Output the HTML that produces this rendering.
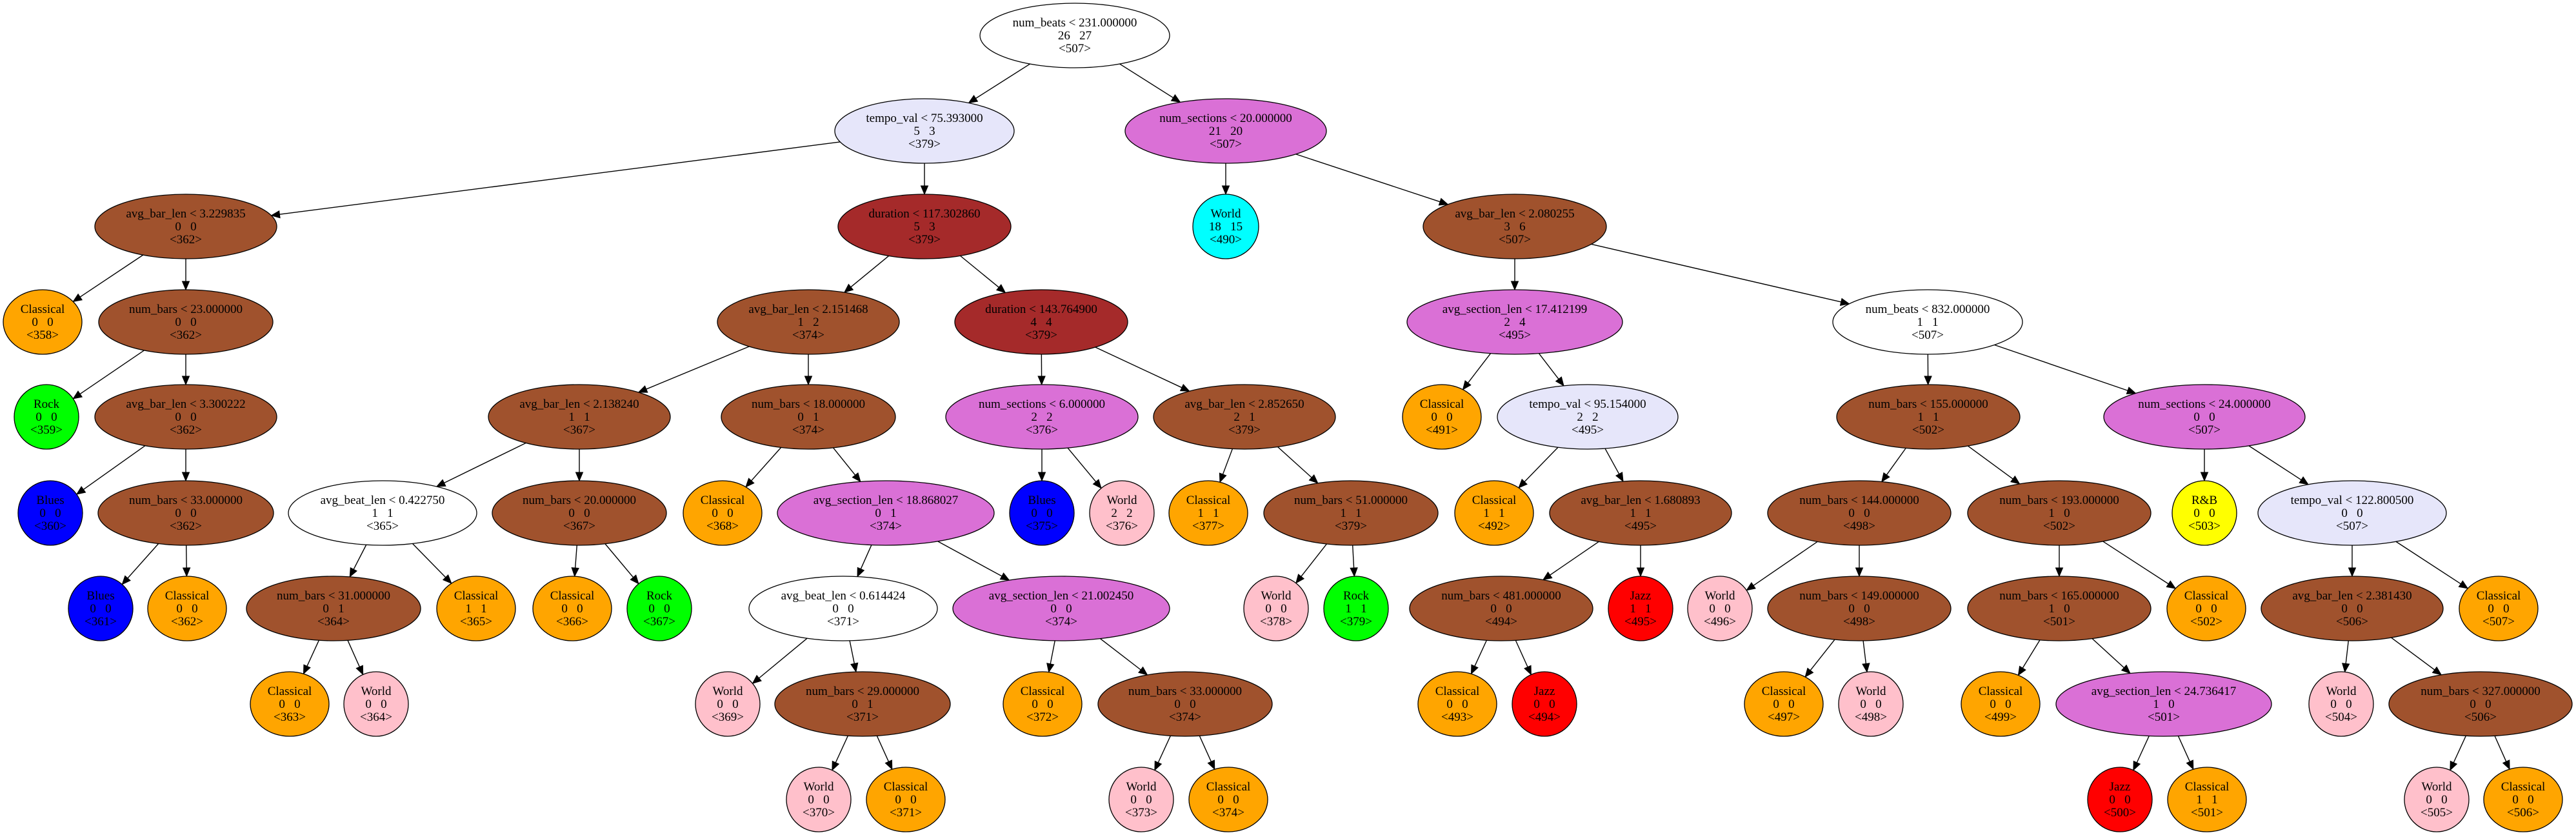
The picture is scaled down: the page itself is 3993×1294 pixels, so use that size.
<!DOCTYPE html>
<html><head><meta charset="utf-8"><style>
html,body{margin:0;padding:0;background:#fff;}
svg{display:block;}
text{font-family:"Liberation Serif",serif;font-size:19px;text-anchor:middle;fill:#000;}
ellipse{stroke:#000;stroke-width:1.3;}
</style></head><body>
<svg id="s" width="3993" height="1294" viewBox="0 0 3993 1294" xmlns="http://www.w3.org/2000/svg">
<g id="edges"></g>
<g id="nodes">
<ellipse id="n0" cx="1666" cy="55" rx="147" ry="50" fill="#ffffff"/><text x="1666" y="41">num_beats &lt; 231.000000</text><text x="1666" y="61">26&#160;&#160;&#160;27</text><text x="1666" y="81">&lt;507&gt;</text>
<ellipse id="n1" cx="1433" cy="203" rx="139" ry="50" fill="#e6e6fa"/><text x="1433" y="189">tempo_val &lt; 75.393000</text><text x="1433" y="209">5&#160;&#160;&#160;3</text><text x="1433" y="229">&lt;379&gt;</text>
<ellipse id="n2" cx="1900" cy="203" rx="156" ry="50" fill="#da70d6"/><text x="1900" y="189">num_sections &lt; 20.000000</text><text x="1900" y="209">21&#160;&#160;&#160;20</text><text x="1900" y="229">&lt;507&gt;</text>
<ellipse id="n3" cx="288" cy="351" rx="141" ry="50" fill="#a0522d"/><text x="288" y="337">avg_bar_len &lt; 3.229835</text><text x="288" y="357">0&#160;&#160;&#160;0</text><text x="288" y="377">&lt;362&gt;</text>
<ellipse id="n4" cx="1433" cy="351" rx="134" ry="50" fill="#a52a2a"/><text x="1433" y="337">duration &lt; 117.302860</text><text x="1433" y="357">5&#160;&#160;&#160;3</text><text x="1433" y="377">&lt;379&gt;</text>
<ellipse id="n5" cx="1900" cy="351" rx="51" ry="50" fill="#00ffff"/><text x="1900" y="337">World</text><text x="1900" y="357">18&#160;&#160;&#160;15</text><text x="1900" y="377">&lt;490&gt;</text>
<ellipse id="n6" cx="2348" cy="351" rx="142" ry="50" fill="#a0522d"/><text x="2348" y="337">avg_bar_len &lt; 2.080255</text><text x="2348" y="357">3&#160;&#160;&#160;6</text><text x="2348" y="377">&lt;507&gt;</text>
<ellipse id="n7" cx="66" cy="499" rx="61" ry="50" fill="#ffa500"/><text x="66" y="485">Classical</text><text x="66" y="505">0&#160;&#160;&#160;0</text><text x="66" y="525">&lt;358&gt;</text>
<ellipse id="n8" cx="288" cy="499" rx="135" ry="50" fill="#a0522d"/><text x="288" y="485">num_bars &lt; 23.000000</text><text x="288" y="505">0&#160;&#160;&#160;0</text><text x="288" y="525">&lt;362&gt;</text>
<ellipse id="n9" cx="1253" cy="499" rx="141" ry="50" fill="#a0522d"/><text x="1253" y="485">avg_bar_len &lt; 2.151468</text><text x="1253" y="505">1&#160;&#160;&#160;2</text><text x="1253" y="525">&lt;374&gt;</text>
<ellipse id="n10" cx="1614" cy="499" rx="134" ry="50" fill="#a52a2a"/><text x="1614" y="485">duration &lt; 143.764900</text><text x="1614" y="505">4&#160;&#160;&#160;4</text><text x="1614" y="525">&lt;379&gt;</text>
<ellipse id="n11" cx="2348" cy="499" rx="167" ry="50" fill="#da70d6"/><text x="2348" y="485">avg_section_len &lt; 17.412199</text><text x="2348" y="505">2&#160;&#160;&#160;4</text><text x="2348" y="525">&lt;495&gt;</text>
<ellipse id="n12" cx="2988" cy="499" rx="147" ry="50" fill="#ffffff"/><text x="2988" y="485">num_beats &lt; 832.000000</text><text x="2988" y="505">1&#160;&#160;&#160;1</text><text x="2988" y="525">&lt;507&gt;</text>
<ellipse id="n13" cx="72" cy="646" rx="50" ry="50" fill="#00ff00"/><text x="72" y="632">Rock</text><text x="72" y="652">0&#160;&#160;&#160;0</text><text x="72" y="672">&lt;359&gt;</text>
<ellipse id="n14" cx="288" cy="646" rx="141" ry="50" fill="#a0522d"/><text x="288" y="632">avg_bar_len &lt; 3.300222</text><text x="288" y="652">0&#160;&#160;&#160;0</text><text x="288" y="672">&lt;362&gt;</text>
<ellipse id="n15" cx="898" cy="646" rx="141" ry="50" fill="#a0522d"/><text x="898" y="632">avg_bar_len &lt; 2.138240</text><text x="898" y="652">1&#160;&#160;&#160;1</text><text x="898" y="672">&lt;367&gt;</text>
<ellipse id="n16" cx="1253" cy="646" rx="135" ry="50" fill="#a0522d"/><text x="1253" y="632">num_bars &lt; 18.000000</text><text x="1253" y="652">0&#160;&#160;&#160;1</text><text x="1253" y="672">&lt;374&gt;</text>
<ellipse id="n17" cx="1615" cy="646" rx="149" ry="50" fill="#da70d6"/><text x="1615" y="632">num_sections &lt; 6.000000</text><text x="1615" y="652">2&#160;&#160;&#160;2</text><text x="1615" y="672">&lt;376&gt;</text>
<ellipse id="n18" cx="1929" cy="646" rx="141" ry="50" fill="#a0522d"/><text x="1929" y="632">avg_bar_len &lt; 2.852650</text><text x="1929" y="652">2&#160;&#160;&#160;1</text><text x="1929" y="672">&lt;379&gt;</text>
<ellipse id="n19" cx="2235" cy="646" rx="61" ry="50" fill="#ffa500"/><text x="2235" y="632">Classical</text><text x="2235" y="652">0&#160;&#160;&#160;0</text><text x="2235" y="672">&lt;491&gt;</text>
<ellipse id="n20" cx="2461" cy="646" rx="140" ry="50" fill="#e6e6fa"/><text x="2461" y="632">tempo_val &lt; 95.154000</text><text x="2461" y="652">2&#160;&#160;&#160;2</text><text x="2461" y="672">&lt;495&gt;</text>
<ellipse id="n21" cx="2989" cy="646" rx="142" ry="50" fill="#a0522d"/><text x="2989" y="632">num_bars &lt; 155.000000</text><text x="2989" y="652">1&#160;&#160;&#160;1</text><text x="2989" y="672">&lt;502&gt;</text>
<ellipse id="n22" cx="3417" cy="646" rx="156" ry="50" fill="#da70d6"/><text x="3417" y="632">num_sections &lt; 24.000000</text><text x="3417" y="652">0&#160;&#160;&#160;0</text><text x="3417" y="672">&lt;507&gt;</text>
<ellipse id="n23" cx="78" cy="795" rx="50" ry="50" fill="#0000ff"/><text x="78" y="781">Blues</text><text x="78" y="801">0&#160;&#160;&#160;0</text><text x="78" y="821">&lt;360&gt;</text>
<ellipse id="n24" cx="288" cy="795" rx="136" ry="50" fill="#a0522d"/><text x="288" y="781">num_bars &lt; 33.000000</text><text x="288" y="801">0&#160;&#160;&#160;0</text><text x="288" y="821">&lt;362&gt;</text>
<ellipse id="n25" cx="593" cy="795" rx="146" ry="50" fill="#ffffff"/><text x="593" y="781">avg_beat_len &lt; 0.422750</text><text x="593" y="801">1&#160;&#160;&#160;1</text><text x="593" y="821">&lt;365&gt;</text>
<ellipse id="n26" cx="898" cy="795" rx="135" ry="50" fill="#a0522d"/><text x="898" y="781">num_bars &lt; 20.000000</text><text x="898" y="801">0&#160;&#160;&#160;0</text><text x="898" y="821">&lt;367&gt;</text>
<ellipse id="n27" cx="1120" cy="795" rx="61" ry="50" fill="#ffa500"/><text x="1120" y="781">Classical</text><text x="1120" y="801">0&#160;&#160;&#160;0</text><text x="1120" y="821">&lt;368&gt;</text>
<ellipse id="n28" cx="1373" cy="795" rx="168" ry="50" fill="#da70d6"/><text x="1373" y="781">avg_section_len &lt; 18.868027</text><text x="1373" y="801">0&#160;&#160;&#160;1</text><text x="1373" y="821">&lt;374&gt;</text>
<ellipse id="n29" cx="1615" cy="795" rx="50" ry="50" fill="#0000ff"/><text x="1615" y="781">Blues</text><text x="1615" y="801">0&#160;&#160;&#160;0</text><text x="1615" y="821">&lt;375&gt;</text>
<ellipse id="n30" cx="1739" cy="795" rx="50" ry="50" fill="#ffc0cb"/><text x="1739" y="781">World</text><text x="1739" y="801">2&#160;&#160;&#160;2</text><text x="1739" y="821">&lt;376&gt;</text>
<ellipse id="n31" cx="1873" cy="795" rx="61" ry="50" fill="#ffa500"/><text x="1873" y="781">Classical</text><text x="1873" y="801">1&#160;&#160;&#160;1</text><text x="1873" y="821">&lt;377&gt;</text>
<ellipse id="n32" cx="2094" cy="795" rx="135" ry="50" fill="#a0522d"/><text x="2094" y="781">num_bars &lt; 51.000000</text><text x="2094" y="801">1&#160;&#160;&#160;1</text><text x="2094" y="821">&lt;379&gt;</text>
<ellipse id="n33" cx="2316" cy="795" rx="61" ry="50" fill="#ffa500"/><text x="2316" y="781">Classical</text><text x="2316" y="801">1&#160;&#160;&#160;1</text><text x="2316" y="821">&lt;492&gt;</text>
<ellipse id="n34" cx="2543" cy="795" rx="141" ry="50" fill="#a0522d"/><text x="2543" y="781">avg_bar_len &lt; 1.680893</text><text x="2543" y="801">1&#160;&#160;&#160;1</text><text x="2543" y="821">&lt;495&gt;</text>
<ellipse id="n35" cx="2882" cy="795" rx="142" ry="50" fill="#a0522d"/><text x="2882" y="781">num_bars &lt; 144.000000</text><text x="2882" y="801">0&#160;&#160;&#160;0</text><text x="2882" y="821">&lt;498&gt;</text>
<ellipse id="n36" cx="3192" cy="795" rx="142" ry="50" fill="#a0522d"/><text x="3192" y="781">num_bars &lt; 193.000000</text><text x="3192" y="801">1&#160;&#160;&#160;0</text><text x="3192" y="821">&lt;502&gt;</text>
<ellipse id="n37" cx="3417" cy="795" rx="50" ry="50" fill="#ffff00"/><text x="3417" y="781">R&amp;B</text><text x="3417" y="801">0&#160;&#160;&#160;0</text><text x="3417" y="821">&lt;503&gt;</text>
<ellipse id="n38" cx="3646" cy="795" rx="146" ry="50" fill="#e6e6fa"/><text x="3646" y="781">tempo_val &lt; 122.800500</text><text x="3646" y="801">0&#160;&#160;&#160;0</text><text x="3646" y="821">&lt;507&gt;</text>
<ellipse id="n39" cx="156" cy="943" rx="50" ry="50" fill="#0000ff"/><text x="156" y="929">Blues</text><text x="156" y="949">0&#160;&#160;&#160;0</text><text x="156" y="969">&lt;361&gt;</text>
<ellipse id="n40" cx="290" cy="943" rx="61" ry="50" fill="#ffa500"/><text x="290" y="929">Classical</text><text x="290" y="949">0&#160;&#160;&#160;0</text><text x="290" y="969">&lt;362&gt;</text>
<ellipse id="n41" cx="517" cy="943" rx="135" ry="50" fill="#a0522d"/><text x="517" y="929">num_bars &lt; 31.000000</text><text x="517" y="949">0&#160;&#160;&#160;1</text><text x="517" y="969">&lt;364&gt;</text>
<ellipse id="n42" cx="738" cy="943" rx="61" ry="50" fill="#ffa500"/><text x="738" y="929">Classical</text><text x="738" y="949">1&#160;&#160;&#160;1</text><text x="738" y="969">&lt;365&gt;</text>
<ellipse id="n43" cx="887" cy="943" rx="61" ry="50" fill="#ffa500"/><text x="887" y="929">Classical</text><text x="887" y="949">0&#160;&#160;&#160;0</text><text x="887" y="969">&lt;366&gt;</text>
<ellipse id="n44" cx="1022" cy="943" rx="50" ry="50" fill="#00ff00"/><text x="1022" y="929">Rock</text><text x="1022" y="949">0&#160;&#160;&#160;0</text><text x="1022" y="969">&lt;367&gt;</text>
<ellipse id="n45" cx="1307" cy="943" rx="146" ry="50" fill="#ffffff"/><text x="1307" y="929">avg_beat_len &lt; 0.614424</text><text x="1307" y="949">0&#160;&#160;&#160;0</text><text x="1307" y="969">&lt;371&gt;</text>
<ellipse id="n46" cx="1645" cy="943" rx="168" ry="50" fill="#da70d6"/><text x="1645" y="929">avg_section_len &lt; 21.002450</text><text x="1645" y="949">0&#160;&#160;&#160;0</text><text x="1645" y="969">&lt;374&gt;</text>
<ellipse id="n47" cx="1978" cy="943" rx="50" ry="50" fill="#ffc0cb"/><text x="1978" y="929">World</text><text x="1978" y="949">0&#160;&#160;&#160;0</text><text x="1978" y="969">&lt;378&gt;</text>
<ellipse id="n48" cx="2102" cy="943" rx="50" ry="50" fill="#00ff00"/><text x="2102" y="929">Rock</text><text x="2102" y="949">1&#160;&#160;&#160;1</text><text x="2102" y="969">&lt;379&gt;</text>
<ellipse id="n49" cx="2327" cy="943" rx="142" ry="50" fill="#a0522d"/><text x="2327" y="929">num_bars &lt; 481.000000</text><text x="2327" y="949">0&#160;&#160;&#160;0</text><text x="2327" y="969">&lt;494&gt;</text>
<ellipse id="n50" cx="2543" cy="943" rx="50" ry="50" fill="#ff0000"/><text x="2543" y="929">Jazz</text><text x="2543" y="949">1&#160;&#160;&#160;1</text><text x="2543" y="969">&lt;495&gt;</text>
<ellipse id="n51" cx="2666" cy="943" rx="50" ry="50" fill="#ffc0cb"/><text x="2666" y="929">World</text><text x="2666" y="949">0&#160;&#160;&#160;0</text><text x="2666" y="969">&lt;496&gt;</text>
<ellipse id="n52" cx="2882" cy="943" rx="142" ry="50" fill="#a0522d"/><text x="2882" y="929">num_bars &lt; 149.000000</text><text x="2882" y="949">0&#160;&#160;&#160;0</text><text x="2882" y="969">&lt;498&gt;</text>
<ellipse id="n53" cx="3192" cy="943" rx="142" ry="50" fill="#a0522d"/><text x="3192" y="929">num_bars &lt; 165.000000</text><text x="3192" y="949">1&#160;&#160;&#160;0</text><text x="3192" y="969">&lt;501&gt;</text>
<ellipse id="n54" cx="3420" cy="943" rx="61" ry="50" fill="#ffa500"/><text x="3420" y="929">Classical</text><text x="3420" y="949">0&#160;&#160;&#160;0</text><text x="3420" y="969">&lt;502&gt;</text>
<ellipse id="n55" cx="3646" cy="943" rx="141" ry="50" fill="#a0522d"/><text x="3646" y="929">avg_bar_len &lt; 2.381430</text><text x="3646" y="949">0&#160;&#160;&#160;0</text><text x="3646" y="969">&lt;506&gt;</text>
<ellipse id="n56" cx="3873" cy="943" rx="61" ry="50" fill="#ffa500"/><text x="3873" y="929">Classical</text><text x="3873" y="949">0&#160;&#160;&#160;0</text><text x="3873" y="969">&lt;507&gt;</text>
<ellipse id="n57" cx="449" cy="1091" rx="61" ry="50" fill="#ffa500"/><text x="449" y="1077">Classical</text><text x="449" y="1097">0&#160;&#160;&#160;0</text><text x="449" y="1117">&lt;363&gt;</text>
<ellipse id="n58" cx="583" cy="1091" rx="50" ry="50" fill="#ffc0cb"/><text x="583" y="1077">World</text><text x="583" y="1097">0&#160;&#160;&#160;0</text><text x="583" y="1117">&lt;364&gt;</text>
<ellipse id="n59" cx="1128" cy="1091" rx="50" ry="50" fill="#ffc0cb"/><text x="1128" y="1077">World</text><text x="1128" y="1097">0&#160;&#160;&#160;0</text><text x="1128" y="1117">&lt;369&gt;</text>
<ellipse id="n60" cx="1337" cy="1091" rx="136" ry="50" fill="#a0522d"/><text x="1337" y="1077">num_bars &lt; 29.000000</text><text x="1337" y="1097">0&#160;&#160;&#160;1</text><text x="1337" y="1117">&lt;371&gt;</text>
<ellipse id="n61" cx="1616" cy="1091" rx="61" ry="50" fill="#ffa500"/><text x="1616" y="1077">Classical</text><text x="1616" y="1097">0&#160;&#160;&#160;0</text><text x="1616" y="1117">&lt;372&gt;</text>
<ellipse id="n62" cx="1837" cy="1091" rx="135" ry="50" fill="#a0522d"/><text x="1837" y="1077">num_bars &lt; 33.000000</text><text x="1837" y="1097">0&#160;&#160;&#160;0</text><text x="1837" y="1117">&lt;374&gt;</text>
<ellipse id="n63" cx="2259" cy="1091" rx="61" ry="50" fill="#ffa500"/><text x="2259" y="1077">Classical</text><text x="2259" y="1097">0&#160;&#160;&#160;0</text><text x="2259" y="1117">&lt;493&gt;</text>
<ellipse id="n64" cx="2394" cy="1091" rx="50" ry="50" fill="#ff0000"/><text x="2394" y="1077">Jazz</text><text x="2394" y="1097">0&#160;&#160;&#160;0</text><text x="2394" y="1117">&lt;494&gt;</text>
<ellipse id="n65" cx="2765" cy="1091" rx="61" ry="50" fill="#ffa500"/><text x="2765" y="1077">Classical</text><text x="2765" y="1097">0&#160;&#160;&#160;0</text><text x="2765" y="1117">&lt;497&gt;</text>
<ellipse id="n66" cx="2900" cy="1091" rx="50" ry="50" fill="#ffc0cb"/><text x="2900" y="1077">World</text><text x="2900" y="1097">0&#160;&#160;&#160;0</text><text x="2900" y="1117">&lt;498&gt;</text>
<ellipse id="n67" cx="3101" cy="1091" rx="61" ry="50" fill="#ffa500"/><text x="3101" y="1077">Classical</text><text x="3101" y="1097">0&#160;&#160;&#160;0</text><text x="3101" y="1117">&lt;499&gt;</text>
<ellipse id="n68" cx="3354" cy="1091" rx="167" ry="50" fill="#da70d6"/><text x="3354" y="1077">avg_section_len &lt; 24.736417</text><text x="3354" y="1097">1&#160;&#160;&#160;0</text><text x="3354" y="1117">&lt;501&gt;</text>
<ellipse id="n69" cx="3629" cy="1091" rx="50" ry="50" fill="#ffc0cb"/><text x="3629" y="1077">World</text><text x="3629" y="1097">0&#160;&#160;&#160;0</text><text x="3629" y="1117">&lt;504&gt;</text>
<ellipse id="n70" cx="3845" cy="1091" rx="142" ry="50" fill="#a0522d"/><text x="3845" y="1077">num_bars &lt; 327.000000</text><text x="3845" y="1097">0&#160;&#160;&#160;0</text><text x="3845" y="1117">&lt;506&gt;</text>
<ellipse id="n71" cx="1269" cy="1239" rx="50" ry="50" fill="#ffc0cb"/><text x="1269" y="1225">World</text><text x="1269" y="1245">0&#160;&#160;&#160;0</text><text x="1269" y="1265">&lt;370&gt;</text>
<ellipse id="n72" cx="1404" cy="1239" rx="61" ry="50" fill="#ffa500"/><text x="1404" y="1225">Classical</text><text x="1404" y="1245">0&#160;&#160;&#160;0</text><text x="1404" y="1265">&lt;371&gt;</text>
<ellipse id="n73" cx="1769" cy="1239" rx="50" ry="50" fill="#ffc0cb"/><text x="1769" y="1225">World</text><text x="1769" y="1245">0&#160;&#160;&#160;0</text><text x="1769" y="1265">&lt;373&gt;</text>
<ellipse id="n74" cx="1904" cy="1239" rx="61" ry="50" fill="#ffa500"/><text x="1904" y="1225">Classical</text><text x="1904" y="1245">0&#160;&#160;&#160;0</text><text x="1904" y="1265">&lt;374&gt;</text>
<ellipse id="n75" cx="3286" cy="1239" rx="50" ry="50" fill="#ff0000"/><text x="3286" y="1225">Jazz</text><text x="3286" y="1245">0&#160;&#160;&#160;0</text><text x="3286" y="1265">&lt;500&gt;</text>
<ellipse id="n76" cx="3421" cy="1239" rx="61" ry="50" fill="#ffa500"/><text x="3421" y="1225">Classical</text><text x="3421" y="1245">1&#160;&#160;&#160;1</text><text x="3421" y="1265">&lt;501&gt;</text>
<ellipse id="n77" cx="3777" cy="1239" rx="50" ry="50" fill="#ffc0cb"/><text x="3777" y="1225">World</text><text x="3777" y="1245">0&#160;&#160;&#160;0</text><text x="3777" y="1265">&lt;505&gt;</text>
<ellipse id="n78" cx="3911" cy="1239" rx="61" ry="50" fill="#ffa500"/><text x="3911" y="1225">Classical</text><text x="3911" y="1245">0&#160;&#160;&#160;0</text><text x="3911" y="1265">&lt;506&gt;</text>
</g>
</svg>
<script>
(function(){
var E=[[0,1],[0,2],[1,3],[1,4],[2,5],[2,6],[3,7],[3,8],[4,9],[4,10],[6,11],[6,12],[8,13],[8,14],[9,15],[9,16],[10,17],[10,18],[11,19],[11,20],[12,21],[12,22],[14,23],[14,24],[15,25],[15,26],[16,27],[16,28],[17,29],[17,30],[18,31],[18,32],[20,33],[20,34],[21,35],[21,36],[22,37],[22,38],[24,39],[24,40],[25,41],[25,42],[26,43],[26,44],[28,45],[28,46],[32,47],[32,48],[34,49],[34,50],[35,51],[35,52],[36,53],[36,54],[38,55],[38,56],[41,57],[41,58],[45,59],[45,60],[46,61],[46,62],[49,63],[49,64],[52,65],[52,66],[53,67],[53,68],[55,69],[55,70],[60,71],[60,72],[62,73],[62,74],[68,75],[68,76],[70,77],[70,78]];
function g(i){var e=document.getElementById('n'+i);return{x:+e.getAttribute('cx'),y:+e.getAttribute('cy'),rx:+e.getAttribute('rx'),ry:+e.getAttribute('ry')};}
function t(n,dx,dy){return 1/Math.sqrt((dx*dx)/(n.rx*n.rx)+(dy*dy)/(n.ry*n.ry));}
var ns='http://www.w3.org/2000/svg',G=document.getElementById('edges'),h='';
E.forEach(function(p){var a=g(p[0]),b=g(p[1]);var dx=b.x-a.x,dy=b.y-a.y;var L=Math.sqrt(dx*dx+dy*dy);var ux=dx/L,uy=dy/L;
var ta=t(a,ux,uy),tb=t(b,ux,uy);
var sx=a.x+ux*ta,sy=a.y+uy*ta,ex=b.x-ux*tb,ey=b.y-uy*tb;
var al=13,aw=5.5;var bx=ex-ux*al,by=ey-uy*al;
h+='<line x1="'+sx+'" y1="'+sy+'" x2="'+bx+'" y2="'+by+'" stroke="#000" stroke-width="1.4"/>';
h+='<polygon points="'+ex+','+ey+' '+(bx-uy*aw)+','+(by+ux*aw)+' '+(bx+uy*aw)+','+(by-ux*aw)+'" fill="#000" stroke="#000" stroke-width="1"/>';});
G.innerHTML=h;
})();
</script>
</body></html>
